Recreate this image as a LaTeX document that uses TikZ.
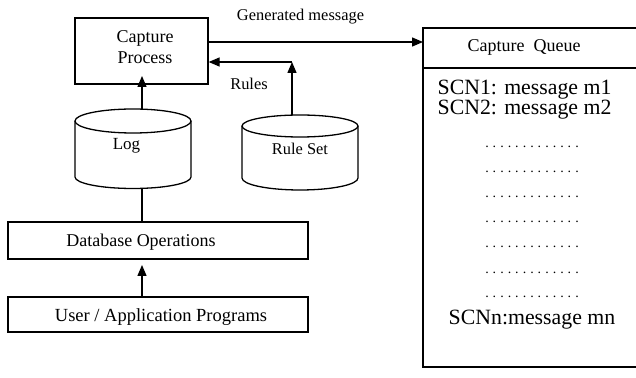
\documentclass[tikz,border=0pt]{standalone}
\usepackage{fontspec}
\setmainfont{Liberation Serif}
\usetikzlibrary{arrows.meta}
\newcommand\qd{\hbox to 7.5pt{\hss.\hss}}
\newcommand\qdots{\qd\qd\qd\qd\qd\qd\qd\qd\qd\qd\qd\qd\qd}
\begin{document}
\begin{tikzpicture}[x=1pt,y=1pt,line width=1.3pt,
  >={Triangle[length=11pt,width=9pt]},
  box/.style={draw,rectangle,inner sep=0pt},
  lbl/.style={inner sep=0pt,font=\fontsize{18}{21}\selectfont},
  small/.style={inner sep=0pt,font=\fontsize{16.4}{19}\selectfont},
  big/.style={inner sep=0pt,font=\fontsize{21.8}{18}\selectfont},
  dotrow/.style={inner sep=0pt,anchor=base,font=\fontsize{14}{16}\selectfont}]
\useasboundingbox (0,0) rectangle (636,377);

% boxes
\node[box,minimum width=133pt,minimum height=66pt] (cap) at (141.5,326) {};
\node[lbl,align=center] (captxt) at (145,329.5) {Capture\\Process};
\node[box,minimum width=300pt,minimum height=37pt] (db) at (158,136.5) {};
\node[lbl] (dbtxt) at (141,135) {Database Operations};
\node[box,minimum width=300pt,minimum height=35pt] (user) at (158,62.5) {};
\node[lbl,font=\fontsize{18.5}{21}\selectfont] (usertxt) at (161,60) {User / Application Programs};

% Log cylinder
\draw (133,256) ellipse [x radius=58, y radius=12];
\draw (75,256) -- (75,200) arc[start angle=180,end angle=360,x radius=58,y radius=11.5] -- (191,256);
\node[small,font=\fontsize{17}{19}\selectfont] (logtxt) at (126.5,231) {Log};
\coordinate (logtop) at (142,268);
\coordinate (logbot) at (142,188.5);

% Rule Set cylinder
\draw (300,251) ellipse [x radius=58, y radius=11];
\draw (242,251) -- (242,199) arc[start angle=180,end angle=360,x radius=58,y radius=12] -- (358,251);
\node[small] (rstxt) at (300,228) {Rule Set};
\coordinate (rstop) at (292,262);
\coordinate (rscorner) at (292,315);

% queue
\coordinate (qtl) at (423,349);
\coordinate (qbl) at (423,10);
\coordinate (qtr) at (638,349);
\coordinate (qbr) at (638,10);
\coordinate (qdl) at (423,309);
\coordinate (qdr) at (638,309);
\draw (qtr) -- (qtl) -- (qbl) -- (qbr);
\draw (qdl) -- (qdr);
\node[lbl] (qtitle) at (524,330) {Capture\ \ Queue};
\node[big,align=left,anchor=base west] (scn) at (437,262) {SCN1: message m1\\SCN2: message m2};
\node[dotrow] (d1) at (532,229) {\qdots};
\node[dotrow] (d2) at (532,204) {\qdots};
\node[dotrow] (d3) at (532,179) {\qdots};
\node[dotrow] (d4) at (532,154) {\qdots};
\node[dotrow] (d5) at (532,129) {\qdots};
\node[dotrow] (d6) at (532,103) {\qdots};
\node[dotrow] (d7) at (532,79) {\qdots};
\node[big] (scnn) at (532,57) {SCNn:message mn};

% labels
\node[small] (gen) at (300.5,360) {Generated message};
\node[small] (rules) at (249,293) {Rules};

% connectors
\coordinate (qin) at (423,335);
\coordinate (captip) at (142,301);
\coordinate (dbtip) at (142,112);
\draw[->] (cap.east |- qin) -- (qin);
\draw[->] (rstop) -- (rscorner);
\draw[->] (rscorner) -- (rscorner -| cap.east);
\draw[->] (logtop) -- (captip);
\draw (logbot) -- (logbot |- db.north);
\draw[->] (user.north -| dbtip) -- (dbtip);
\end{tikzpicture}
\end{document}
